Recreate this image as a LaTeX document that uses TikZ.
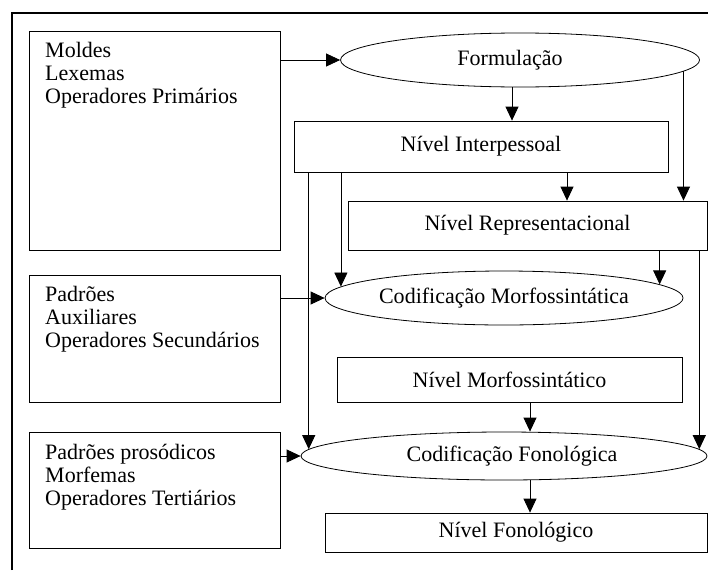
\documentclass[tikz,border=0pt]{standalone}
\usepackage{fontspec}
\setmainfont{Liberation Serif}
\usetikzlibrary{shapes.geometric,arrows.meta}
\begin{document}
\begin{tikzpicture}[x=1pt,y=-1pt,
  box/.style={draw, line width=0.8pt, rectangle, inner sep=0pt},
  oval/.style={draw, line width=0.8pt, ellipse, inner sep=0pt},
  arr/.style={line width=0.8pt, -{Triangle[length=14pt,width=13pt]}},
  txt/.style={anchor=north west, inner sep=0pt, align=left},
  every node/.style={font=\fontsize{22}{23}\selectfont}]
\useasboundingbox (0,0) rectangle (708,570);
\draw[line width=2pt] (12,570) -- (12,13) -- (708,13);
% left boxes
\node[box, minimum width=251pt, minimum height=219pt] (b1) at (154.5,140.5) {};
\node[txt] (t1) at (45,42.5) {Moldes\\Lexemas\\Operadores Primários};
\node[box, minimum width=251pt, minimum height=127pt] (b2) at (154.5,338.5) {};
\node[txt] (t2) at (45,286.5) {Padrões\\Auxiliares\\Operadores Secundários};
\node[box, minimum width=251pt, minimum height=116pt] (b3) at (154.5,490) {};
\node[txt] (t3) at (45,443.5) {Padrões prosódicos\\Morfemas\\Operadores Tertiários};
% right column
\node[oval, minimum width=359pt, minimum height=54pt] (form) at (520,60) {\hspace*{-20pt}Formulação};
\node[box, minimum width=374pt, minimum height=51pt] (inter) at (481,146.5) {Nível Interpessoal};
\node[box, minimum width=359pt, minimum height=49pt] (rep) at (527.5,225.5) {Nível Representacional};
\node[oval, minimum width=358pt, minimum height=54pt] (cm) at (504,298) {Codificação Morfossintática};
\node[box, minimum width=345pt, minimum height=45pt] (nm) at (509.5,379.5) {Nível Morfossintático};
\node[oval, minimum width=406pt, minimum height=48pt] (cf) at (504,456) {\hspace*{16pt}Codificação Fonológica};
\node[box, minimum width=382pt, minimum height=39pt] (nf) at (516,532.5) {Nível Fonológico};
% x positions
\coordinate (x512) at (512,0);
\coordinate (x567) at (567,0);
\coordinate (x530) at (530,0);
% connectors
\draw[arr] (b1.east |- form.west) -- (form.west);
\draw[arr] (form.south -| x512) -- (inter.north -| x512);
\draw[arr] (form.-4.36) -- (form.-4.36 |- rep.north);
\draw[arr] (inter.south -| x567) -- (rep.north -| x567);
\draw[arr] (cm.176.36 |- inter.south) -- (cm.176.36);
\draw[arr] (cf.178.31 |- inter.south) -- (cf.178.31);
\draw[arr] (cm.5.37 |- rep.south) -- (cm.5.37);
\draw[arr] (cf.2.77 |- rep.south) -- (cf.2.77);
\draw[arr] (b2.east |- cm.west) -- (cm.west);
\draw[arr] (b3.east |- cf.west) -- (cf.west);
\draw[arr] (nm.south -| x530) -- (cf.north -| x530);
\draw[arr] (cf.south -| x530) -- (nf.north -| x530);
\end{tikzpicture}
\end{document}
